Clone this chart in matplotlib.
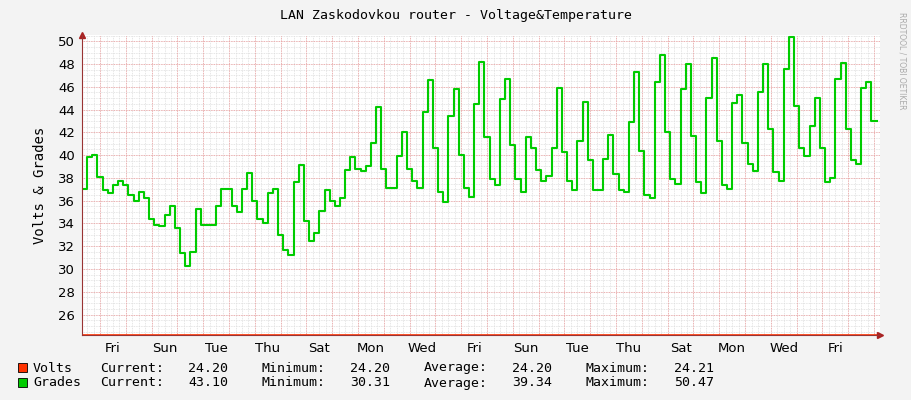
import numpy as np
import matplotlib.pyplot as plt

# Grades (temperature) samples, one every 4.8 hours
grades = [37.0, 39.8, 40.0, 38.1, 36.9, 36.7, 37.4, 37.7, 37.4, 36.5, 36.0, 36.8, 36.2, 34.4, 33.9,
          33.8, 34.7, 35.5, 33.6, 31.4, 30.3, 31.5, 35.3, 33.9, 33.9, 33.9, 35.5, 37.0, 37.0, 35.5,
          35.0, 37.0, 38.4, 36.0, 34.4, 34.0, 36.7, 37.0, 33.0, 31.7, 31.2, 37.6, 39.1, 34.2, 32.5,
          33.2, 35.1, 36.9, 36.0, 35.5, 36.2, 38.7, 39.8, 38.8, 38.6, 39.0, 41.1, 44.2, 38.8, 37.1,
          37.1, 39.9, 42.0, 38.8, 37.7, 37.1, 43.8, 46.6, 40.6, 36.8, 35.9, 43.4, 45.8, 40.0, 37.1,
          36.3, 44.5, 48.2,
          41.6, 37.9, 37.4, 44.9, 46.7, 40.9, 37.9, 36.8, 41.6, 40.6, 38.7, 37.7, 38.2, 40.6, 45.9,
          40.3, 37.7, 36.9, 41.2, 44.7, 39.6, 36.9, 36.9, 39.7, 41.8, 38.3, 36.9, 36.8, 42.9, 47.3,
          40.4, 36.5, 36.2, 46.4, 48.8, 42.0, 37.9, 37.5, 45.8, 48.0, 41.7, 37.6, 36.7, 45.0, 48.5,
          41.2, 37.4, 37.0, 44.6, 45.3, 41.1, 39.2, 38.6, 45.5, 48.0, 42.3, 38.5, 37.7, 47.6, 50.4,
          44.3, 40.6, 39.9, 42.6, 45.0, 40.6, 37.6, 38.0, 46.7, 48.1, 42.3, 39.6, 39.2, 45.9, 46.4,
          43.0]
volts = 24.20
start_day = -0.7      # days relative to first Friday 00:00
step_hours = 4.8

day_names = ['Fri', 'Sun', 'Tue', 'Thu', 'Sat', 'Mon', 'Wed', 'Fri',
             'Sun', 'Tue', 'Thu', 'Sat', 'Mon', 'Wed', 'Fri']
y_ticks = list(range(26, 51, 2))

legend_rows = [('Volts', '#FF3300', '24.20', '24.20', '24.20', '24.21'),
               ('Grades', '#00CC00', '43.10', '30.31', '39.34', '50.47')]
stat_names = ['Current:', 'Minimum:', 'Average:', 'Maximum:']

t = start_day + np.arange(len(grades) + 1) * step_hours / 24.0
g = grades + [grades[-1]]

fig = plt.figure(figsize=(9.11, 4.0), dpi=100, facecolor='#F3F3F3')
ax = fig.add_axes([82 / 911, 65 / 400, 798 / 911, 300 / 400])
ax.set_facecolor('white')
ax.set_xlim(-0.7, 30.23)
ax.set_ylim(24.2, 50.55)

# grid like rrdtool: minor grey, major red, dotted
for yy in np.arange(24.5, 50.6, 0.5):
    ax.axhline(yy, color='#DDDDDD', lw=0.6, ls=(0, (1, 1)), zorder=0)
for xx in np.arange(-0.5, 30.3, 0.25):
    ax.axvline(xx, color='#DDDDDD', lw=0.6, ls=(0, (1, 1)), zorder=0)
for yy in y_ticks:
    ax.axhline(yy, color='#F0A0A0', lw=0.6, ls=(0, (1, 1)), zorder=0)
for xx in range(0, 31):
    ax.axvline(xx, color='#F0A0A0', lw=0.6, ls=(0, (1, 1)), zorder=0)

ax.step(t, [volts] * len(t), where='post', color='#FF3300', lw=1.2)
ax.step(t, g, where='post', color='#00CC00', lw=1.5)

ax.set_xticks([0.5 + 2 * k for k in range(len(day_names))])
ax.set_xticklabels(day_names)
ax.set_yticks(y_ticks)
ax.tick_params(length=0, labelsize=9.5, colors='#000000', pad=5)
for s in ['top', 'right']:
    ax.spines[s].set_visible(False)
for s in ['left', 'bottom']:
    ax.spines[s].set_color('#993333')
ax.plot([1.0], [0], marker='>', color='#AA2222', ms=4, transform=ax.transAxes, clip_on=False)
ax.plot([0], [1.0], marker='^', color='#AA2222', ms=4, transform=ax.transAxes, clip_on=False)

fig.text(0.5, 1 - 15 / 400, 'LAN Zaskodovkou router - Voltage&Temperature',
         ha='center', va='center', fontsize=9.5, family='DejaVu Sans Mono')
ax.set_ylabel('Volts & Grades', fontsize=10, family='DejaVu Sans Mono', labelpad=8)
fig.text(902 / 911, 0.97, 'RRDTOOL / TOBI OETIKER', rotation=270, ha='center', va='top',
         fontsize=5.5, color='#AAAAAA')

for i, (name, col, *vals) in enumerate(legend_rows):
    y = 1 - (368 + 15 * i) / 400
    fig.patches.append(plt.Rectangle((18 / 911, y - 4 / 400), 9 / 911, 9 / 400,
                                     transform=fig.transFigure, facecolor=col,
                                     edgecolor='black', lw=0.6))
    fig.text(33 / 911, y, name, va='center', fontsize=9.5, family='DejaVu Sans Mono')
    for k, (sn, v) in enumerate(zip(stat_names, vals)):
        x0 = 100 + 162 * k
        fig.text(x0 / 911, y, sn, va='center', fontsize=9.5, family='DejaVu Sans Mono')
        fig.text((x0 + 88) / 911, y, v, va='center', fontsize=9.5, family='DejaVu Sans Mono')

fig.savefig('out.png', dpi=100, facecolor=fig.get_facecolor())
